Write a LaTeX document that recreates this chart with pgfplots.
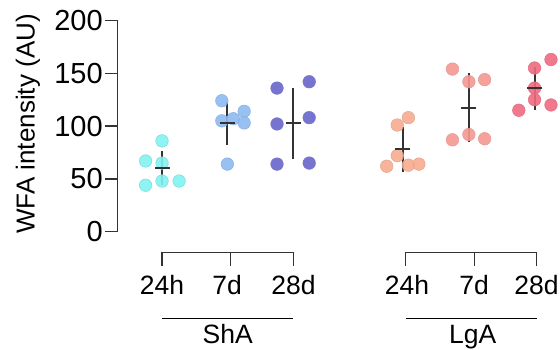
\documentclass[border=0pt]{standalone}
\usepackage{fontspec}
\setmainfont{Liberation Sans}
\usepackage{pgfplots}
\pgfplotsset{compat=1.18}
\definecolor{cA}{HTML}{82F2F2}
\definecolor{cB}{HTML}{8DB9F2}
\definecolor{cC}{HTML}{7674CF}
\definecolor{cD}{HTML}{F6AC8F}
\definecolor{cE}{HTML}{F49892}
\definecolor{cF}{HTML}{EE6A80}
\definecolor{ln}{HTML}{333333}
\begin{document}
\begin{tikzpicture}
\begin{axis}[
  x=65.7pt, y=1.056pt,
  xmin=-0.68, xmax=6.05, ymin=0, ymax=200,
  axis x line=none,
  axis y line*=left,
  axis line style={ln, line width=1.4pt},
  ytick={0,50,100,150,200},
  tick align=outside, tick pos=left,
  major tick length=12pt,
  tick style={ln, line width=1.4pt},
  /pgf/number format/assume math mode=true,
  yticklabel style={font=\fontsize{29}{32}\selectfont, inner sep=2.5pt},
  clip=false,
]
% data points
\addplot[only marks, mark=*, mark size=6.3pt, mark options={fill=cA, draw=cA!80!gray, line width=0.5pt, fill opacity=0.9}]
  coordinates {(-0.25,67) (0,86) (0,65) (-0.25,44) (0,48) (0.26,48)};
\addplot[only marks, mark=*, mark size=6.3pt, mark options={fill=cB, draw=cB!85!gray, line width=0.5pt, fill opacity=0.9}]
  coordinates {(0.91,124) (0.91,105) (1.085,107) (1.25,114) (1.25,103) (0.994,64)};
\addplot[only marks, mark=*, mark size=6.3pt, mark options={fill=cC, draw=cC, line width=0.5pt}]
  coordinates {(1.75,136) (1.75,102) (1.75,64) (2.24,142) (2.24,108) (2.24,65)};
\addplot[only marks, mark=*, mark size=6.3pt, mark options={fill=cD, draw=cD!85!gray, line width=0.5pt, fill opacity=0.9}]
  coordinates {(3.42,62) (3.58,101) (3.75,108) (3.58,72) (3.75,63) (3.91,64)};
\addplot[only marks, mark=*, mark size=6.3pt, mark options={fill=cE, draw=cE!90!gray, line width=0.5pt, fill opacity=0.9}]
  coordinates {(4.42,154) (4.67,142) (4.91,144) (4.42,87) (4.67,92) (4.91,88)};
\addplot[only marks, mark=*, mark size=6.3pt, mark options={fill=cF, draw=cF!90!gray, line width=0.5pt, fill opacity=0.9}]
  coordinates {(5.67,155) (5.92,163) (5.67,136) (5.67,125) (5.43,115) (5.92,120)};
% means and error bars
\addplot[only marks, mark=-, mark size=7.5pt, mark options={line width=2pt, ln},
  error bars/.cd, y dir=both, y explicit, error mark=none,
  error bar style={line width=2pt, ln}]
  coordinates {
   (0,60) +- (0,16)
   (0.994,102.6) +- (0,20.5)
   (1.998,102.6) +- (0,33.5)
   (3.66,78.3) +- (0,21.3)
   (4.67,117.4) +- (0,32.5)
   (5.67,135.8) +- (0,20.5)
  };
% brackets
\draw[ln, line width=1.3pt] (axis cs:0,-32.5) -- (axis cs:0,-19.9) -- (axis cs:2,-19.9) -- (axis cs:2,-32.5);
\draw[ln, line width=1.3pt] (axis cs:1.04,-19.9) -- (axis cs:1.04,-32.5);
\draw[ln, line width=1.3pt] (axis cs:3.71,-32.5) -- (axis cs:3.71,-19.9) -- (axis cs:5.70,-19.9) -- (axis cs:5.70,-32.5);
\draw[ln, line width=1.3pt] (axis cs:4.76,-19.9) -- (axis cs:4.76,-32.5);
\draw[black, line width=1.2pt] (axis cs:0,-82) -- (axis cs:2,-82);
\draw[black, line width=1.2pt] (axis cs:3.71,-82) -- (axis cs:5.70,-82);
\begin{scope}[every node/.style={font=\fontsize{26.5}{30}\selectfont, anchor=base, inner sep=0pt}]
\node at (axis cs:0,-59.9) {24h};
\node at (axis cs:0.99,-59.9) {7d};
\node at (axis cs:2,-59.9) {28d};
\node at (axis cs:3.73,-59.9) {24h};
\node at (axis cs:4.75,-59.9) {7d};
\node at (axis cs:5.70,-59.9) {28d};
\node at (axis cs:1.0,-105.4) {ShA};
\node at (axis cs:4.73,-105.4) {LgA};
\end{scope}
\node[rotate=90, font=\fontsize{26}{30}\selectfont, inner sep=0pt] at (axis cs:-2.04,102) {WFA intensity (AU)};
\coordinate (bl) at (axis cs:-2.466,-112);
\coordinate (tr) at (axis cs:6.057,219.4);
\end{axis}
\pgfresetboundingbox
\path[use as bounding box] (bl) rectangle (tr);
\end{tikzpicture}
\end{document}
